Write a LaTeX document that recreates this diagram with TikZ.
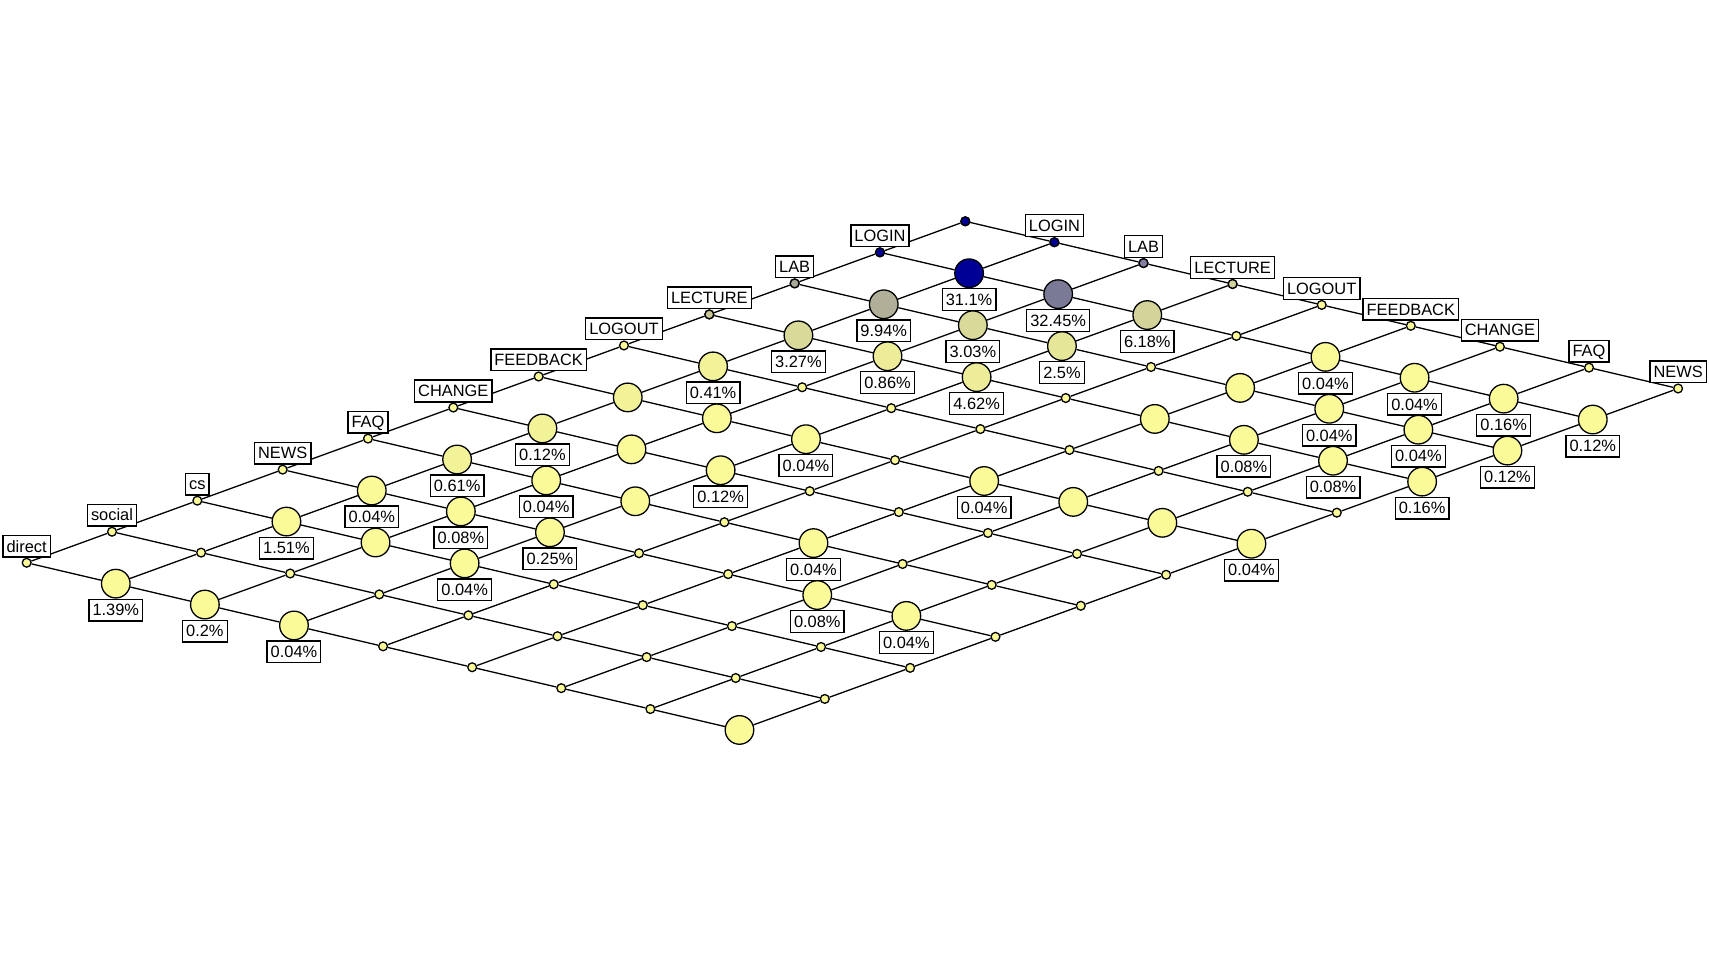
\documentclass[tikz,border=0pt]{standalone}
\usepackage{fontspec}
\setmainfont{Liberation Sans}
\usetikzlibrary{positioning}

\definecolor{navy}{RGB}{0,0,150}
\definecolor{slate}{RGB}{122,122,150}
\definecolor{olive1}{RGB}{176,176,152}
\definecolor{olive2}{RGB}{212,212,154}
\definecolor{olive3}{RGB}{217,217,153}
\definecolor{olive4}{RGB}{230,230,153}
\definecolor{olive5}{RGB}{236,236,153}
\definecolor{olive6}{RGB}{242,242,153}
\definecolor{pale}{RGB}{250,250,153}
\definecolor{labL}{RGB}{170,170,150}
\definecolor{labR}{RGB}{130,130,160}
\definecolor{lecL}{RGB}{200,200,152}
\definecolor{lecR}{RGB}{210,210,155}

\begin{document}
\begin{tikzpicture}
  [x=0.5pt,y=-0.5pt,line width=0.65pt,
   spot/.style={circle,draw,fill=pale,inner sep=0pt,minimum size=4.4pt},
   blob/.style={circle,draw,fill=pale,inner sep=0pt,minimum size=14.3pt},
   tag/.style={draw,fill=white,inner xsep=1.8pt,inner ysep=0pt,minimum height=10.85pt,
     text height=6.2pt,text depth=0.4pt,font=\fontsize{8.2}{9}\selectfont}]
  \useasboundingbox (0,0) rectangle (1709,960);

  % lattice points
  \foreach \i in {0,...,11}
    \foreach \j in {0,...,8}
      \node[spot] (n-\i-\j) at ({965.3-85.33*\i+89.1*\j},{221.3+31.04*\i+20.9*\j}) {};

  \foreach \i/\j/\col in {0/0/navy,1/0/navy,0/1/navy,2/0/labL,0/2/labR,3/0/lecL,0/3/lecR}
    \node[spot,fill=\col] (n-\i-\j) at (n-\i-\j) {};

  \foreach \i/\j/\col in {1/1/navy,1/2/slate,1/3/olive2,1/5/pale,1/6/pale,1/7/pale,1/8/pale,
      2/1/olive1,2/2/olive3,2/3/olive4,2/5/pale,2/6/pale,2/7/pale,2/8/pale,
      3/1/olive3,3/2/olive5,3/3/olive5,3/5/pale,3/6/pale,3/7/pale,3/8/pale,
      4/1/olive6,5/1/olive6,5/2/pale,5/3/pale,5/5/pale,5/6/pale,5/7/pale,5/8/pale,
      6/1/olive6,6/2/pale,6/3/pale,7/1/olive6,7/2/pale,7/3/pale,7/5/pale,
      8/1/pale,8/2/pale,8/3/pale,8/6/pale,8/7/pale,9/1/pale,9/2/pale,9/3/pale,
      11/1/pale,11/2/pale,11/3/pale,11/8/pale}
    \node[blob,fill=\col] (n-\i-\j) at (n-\i-\j) {};

  % lattice lines
  \foreach \i in {0,...,11}
    \foreach \j [count=\k] in {0,...,7}
      \draw (n-\i-\j) -- (n-\i-\k);
  \foreach \j in {0,...,8}
    \foreach \i [count=\k] in {0,...,10}
      \draw (n-\i-\j) -- (n-\k-\j);

  % axis names
  \foreach \i/\txt in {1/LOGIN,2/LAB,3/LECTURE,4/LOGOUT,5/FEEDBACK,6/CHANGE,
      7/FAQ,8/NEWS,9/cs,10/social,11/direct}
    \node[tag,above=0pt of n-\i-0] (a-\i) {\txt};
  \foreach \j/\txt in {1/LOGIN,2/LAB,3/LECTURE,4/LOGOUT,5/FEEDBACK,6/CHANGE,7/FAQ,8/NEWS}
    \node[tag,above=0pt of n-0-\j] (b-\j) {\txt};

  % shares
  \foreach \i/\j/\txt in {1/1/31.1\%,1/2/32.45\%,1/3/6.18\%,1/5/0.04\%,1/6/0.04\%,1/7/0.16\%,1/8/0.12\%,
      2/1/9.94\%,2/2/3.03\%,2/3/2.5\%,2/6/0.04\%,2/7/0.04\%,2/8/0.12\%,
      3/1/3.27\%,3/2/0.86\%,3/3/4.62\%,3/6/0.08\%,3/7/0.08\%,3/8/0.16\%,
      4/1/0.41\%,5/3/0.04\%,5/5/0.04\%,5/8/0.04\%,6/1/0.12\%,6/3/0.12\%,
      7/1/0.61\%,7/2/0.04\%,7/5/0.04\%,8/1/0.04\%,8/2/0.08\%,8/3/0.25\%,8/6/0.08\%,8/7/0.04\%,
      9/1/1.51\%,9/3/0.04\%,11/1/1.39\%,11/2/0.2\%,11/3/0.04\%}
    \node[tag,below=0pt of n-\i-\j] (p-\i-\j) {\txt};

\end{tikzpicture}
\end{document}
